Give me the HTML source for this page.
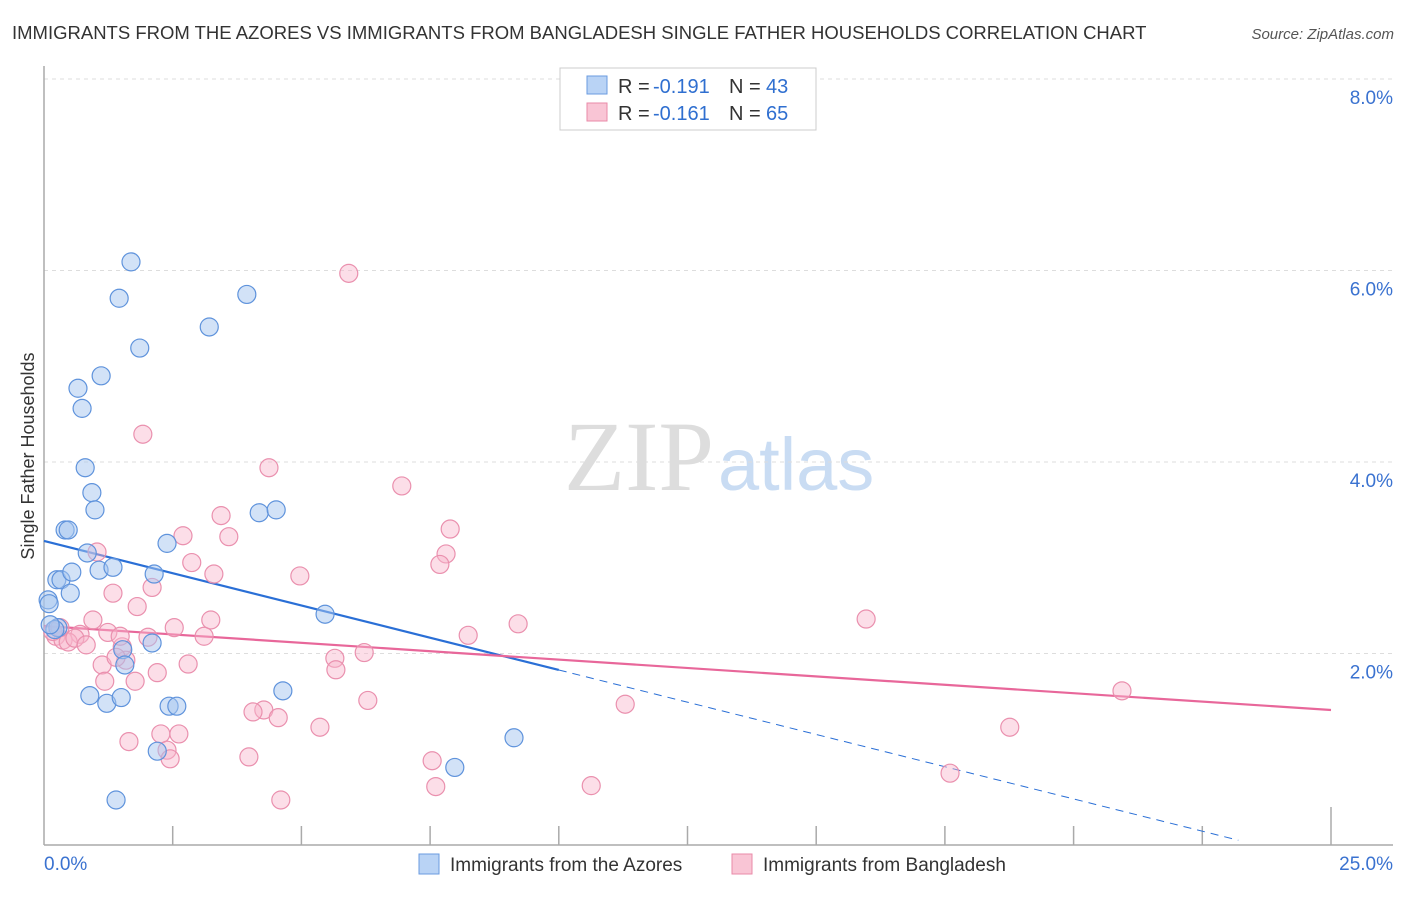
<!DOCTYPE html>
<html><head><meta charset="utf-8"><style>
body{margin:0;background:#fff;font-family:"Liberation Sans",sans-serif;}
svg text{font-family:"Liberation Sans",sans-serif;}
</style></head><body>
<svg id="chart" width="1406" height="892" xmlns="http://www.w3.org/2000/svg">
<text x="12" y="39" font-size="18.5" fill="#333">IMMIGRANTS FROM THE AZORES VS IMMIGRANTS FROM BANGLADESH SINGLE FATHER HOUSEHOLDS CORRELATION CHART</text>
<text x="1394" y="39" font-size="15" fill="#555" font-style="italic" text-anchor="end">Source: ZipAtlas.com</text>
<g>
<text x="714" y="490" font-size="100" fill="#ddd" text-anchor="end" style="font-family:'Liberation Serif',serif">ZIP</text>
<text x="718" y="490" font-size="74" fill="#c9dcf3">atlas</text>
</g>
<g id="grid"></g>
<g id="axes"></g>
<g id="trends"></g>
<g id="pts-pink"></g>
<g id="pts-blue"></g>
<text transform="translate(34,456) rotate(-90)" font-size="18" fill="#333" text-anchor="middle">Single Father Households</text>
<g>
<rect x="560" y="68" width="256" height="62" fill="#fff" stroke="#ccc"/>
<rect x="587" y="76" width="20" height="18" fill="#b9d3f5" stroke="#6a9be0"/>
<text x="618" y="93" font-size="20" fill="#333">R =</text>
<text x="653" y="93" font-size="20" fill="#2f6fd0">-0.191</text>
<text x="729" y="93" font-size="20" fill="#333">N =</text>
<text x="766" y="93" font-size="20" fill="#2f6fd0">43</text>
<rect x="587" y="103" width="20" height="18" fill="#f9c5d5" stroke="#e98aa8"/>
<text x="618" y="120" font-size="20" fill="#333">R =</text>
<text x="653" y="120" font-size="20" fill="#2f6fd0">-0.161</text>
<text x="729" y="120" font-size="20" fill="#333">N =</text>
<text x="766" y="120" font-size="20" fill="#2f6fd0">65</text>
</g>
<g>
<rect x="419" y="854" width="20" height="20" fill="#b9d3f5" stroke="#6a9be0"/>
<text x="450" y="871" font-size="19" fill="#333">Immigrants from the Azores</text>
<rect x="732" y="854" width="20" height="20" fill="#f9c5d5" stroke="#e98aa8"/>
<text x="763" y="871" font-size="19" fill="#333">Immigrants from Bangladesh</text>
</g>
</svg>
<script>
const yTicks=[2,4,6,8];
const yTickLabels=["2.0%","4.0%","6.0%","8.0%"];
const xTickVals=[2.5,5,7.5,10,12.5,15,17.5,20,22.5,25];
const blueX=[1.69,1.46,3.94,3.21,1.86,1.11,0.66,0.74,0.80,0.93,0.99,0.41,0.47,0.84,2.39,4.18,4.51,0.25,0.33,0.54,1.07,1.34,2.14,0.51,0.08,0.10,0.27,1.53,2.10,1.57,5.46,0.89,1.22,1.50,4.64,2.43,2.58,2.20,9.13,7.98,1.40,0.21,0.12];
const blueY=[6.09,5.71,5.75,5.41,5.19,4.90,4.77,4.56,3.94,3.68,3.50,3.29,3.29,3.05,3.15,3.47,3.50,2.77,2.77,2.85,2.87,2.90,2.83,2.63,2.56,2.52,2.27,2.04,2.11,1.88,2.41,1.56,1.48,1.54,1.61,1.45,1.45,0.98,1.12,0.81,0.47,2.25,2.30];
const pinkX=[5.92,1.92,4.37,6.95,3.44,7.89,2.70,3.59,1.03,7.81,2.87,7.69,3.30,4.97,2.10,1.34,1.81,0.95,3.24,15.97,9.21,2.53,1.24,0.70,0.23,0.37,0.47,0.60,2.02,3.11,8.24,0.82,1.52,0.17,0.31,5.65,6.22,1.13,2.80,1.59,1.40,5.67,2.20,1.18,1.77,20.94,6.29,4.27,4.06,4.55,11.29,5.36,18.76,2.62,2.27,1.65,2.39,2.45,3.98,7.54,17.60,7.61,10.63,4.60,1.48];
const pinkY=[5.97,4.29,3.94,3.75,3.44,3.30,3.23,3.22,3.06,3.04,2.95,2.93,2.83,2.81,2.69,2.63,2.49,2.35,2.35,2.36,2.31,2.27,2.22,2.20,2.18,2.14,2.12,2.16,2.17,2.18,2.19,2.09,2.07,2.23,2.27,1.95,2.01,1.88,1.89,1.93,1.96,1.83,1.80,1.71,1.71,1.61,1.51,1.41,1.39,1.33,1.47,1.23,1.23,1.16,1.16,1.08,0.99,0.90,0.92,0.88,0.75,0.61,0.62,0.47,2.18];
const blueTrend=[[0,3.175],[10,1.828]];
const blueTrendExt=[[10,1.828],[23.2,0.05]];
const pinkTrend=[[0,2.287],[25,1.41]];
const X=v=>44+v*51.48, Y=v=>845-v*95.75;
const NS="http://www.w3.org/2000/svg";
function mk(tag,attrs,parent){const e=document.createElementNS(NS,tag);for(const k in attrs)e.setAttribute(k,attrs[k]);document.getElementById(parent).appendChild(e);return e;}
yTicks.forEach((t,i)=>{
 const l=mk('line',{x1:44,x2:1393,y1:Y(t),y2:Y(t),stroke:'#ddd','stroke-dasharray':'4,4'},'grid');
 
 
 const tx=mk('text',{x:1393,y:Y(t)+25,'font-size':19,fill:'#3a72d0','text-anchor':'end'},'grid');
 tx.textContent=yTickLabels[i];
 
 
});
const topGrid=mk('line',{x1:44,x2:1393,y1:79,y2:79,stroke:'#ddd','stroke-dasharray':'4,4'},'grid');


const ya=mk('line',{x1:44,x2:44,y1:66,y2:845,stroke:'#aaa','stroke-width':1.5},'axes');


const xa=mk('line',{x1:44,x2:1393,y1:845,y2:845,stroke:'#aaa','stroke-width':1.5},'axes');


xTickVals.forEach(v=>{
 const t=mk('line',{x1:X(v),x2:X(v),y1:v===25?807:826,y2:845,stroke:'#aaa','stroke-width':1.5},'axes');
 
 
});
const xl0=mk('text',{x:44,y:870,'font-size':19,fill:'#3a72d0'},'axes');xl0.textContent='0.0%';


const xl1=mk('text',{x:1393,y:870,'font-size':19,fill:'#3a72d0','text-anchor':'end'},'axes');xl1.textContent='25.0%';


pinkX.forEach((x,i)=>{
 const c=mk('circle',{cx:X(x),cy:Y(pinkY[i]),r:9,fill:'rgba(248,182,203,0.45)',stroke:'#ea90ae','stroke-width':1.2},'pts-pink');
 
 
});
blueX.forEach((x,i)=>{
 const c=mk('circle',{cx:X(x),cy:Y(blueY[i]),r:9,fill:'rgba(165,198,240,0.5)',stroke:'#5f93dc','stroke-width':1.2},'pts-blue');
 
 
});
const bt=mk('line',{x1:X(blueTrend[0][0]),y1:Y(blueTrend[0][1]),x2:X(blueTrend[1][0]),y2:Y(blueTrend[1][1]),stroke:'#2a6fd6','stroke-width':2.2},'trends');


const be=mk('line',{x1:X(blueTrendExt[0][0]),y1:Y(blueTrendExt[0][1]),x2:X(blueTrendExt[1][0]),y2:Y(blueTrendExt[1][1]),stroke:'#2a6fd6','stroke-width':1,'stroke-dasharray':'8,6'},'trends');


const pt=mk('line',{x1:X(pinkTrend[0][0]),y1:Y(pinkTrend[0][1]),x2:X(pinkTrend[1][0]),y2:Y(pinkTrend[1][1]),stroke:'#e8679a','stroke-width':2.2},'trends');


</script>
</body></html>
